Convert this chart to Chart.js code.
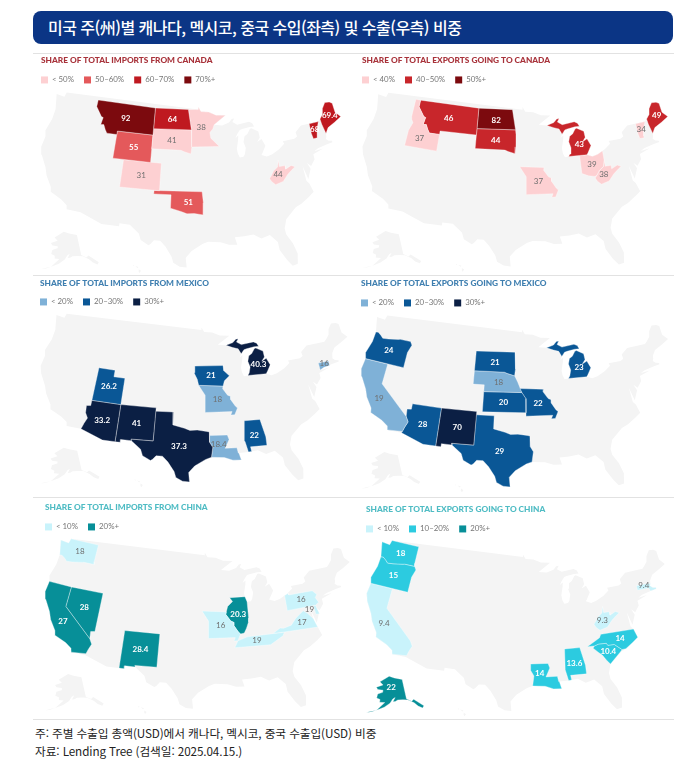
<!DOCTYPE html>
<html lang="ko">
<head>
<meta charset="utf-8">
<title>미국 주별 수출입 비중</title>
<script src="https://cdn.jsdelivr.net/npm/chart.js@4/dist/chart.umd.min.js"></script>
<style>
  html, body { margin: 0; padding: 0; background: #fff; }
  body { width: 692px; height: 784px; position: relative; overflow: hidden; font-family: "Noto Sans CJK KR", sans-serif; }
  #head { position: absolute; left: 33px; top: 11px; width: 640px; height: 33px; background: #0b3585; border-radius: 8px; color: #fff; font-size: 16px; font-weight: 500; letter-spacing: -0.52px; line-height: 33px; text-indent: 15px; white-space: nowrap; }
  .rule { position: absolute; left: 33px; width: 641px; height: 1px; background: #e2e2e2; }
  canvas { position: absolute; }
  .note { position: absolute; left: 35px; font-size: 11.7px; letter-spacing: -0.1px; color: #222; white-space: nowrap; font-weight: 400; }
</style>
</head>
<body>
<div id="head">미국 주(州)별 캐나다, 멕시코, 중국 수입(좌측) 및 수출(우측) 비중</div>
<div class="rule" style="top:53px"></div>
<div class="rule" style="top:275px"></div>
<div class="rule" style="top:497px"></div>
<div class="rule" style="top:719px"></div>
<canvas id="c1" width="320" height="221" style="left:33px;top:54px"></canvas>
<canvas id="c2" width="321" height="221" style="left:353px;top:54px"></canvas>
<canvas id="c3" width="320" height="221" style="left:33px;top:276px"></canvas>
<canvas id="c4" width="321" height="221" style="left:353px;top:276px"></canvas>
<canvas id="c5" width="320" height="221" style="left:33px;top:498px"></canvas>
<canvas id="c6" width="321" height="221" style="left:353px;top:498px"></canvas>
<div class="note" style="top:724px">주: 주별 수출입 총액(USD)에서 캐나다, 멕시코, 중국 수출입(USD) 비중</div>
<div class="note" style="top:742px">자료: Lending Tree (검색일: 2025.04.15.)</div>
<script>
// values
const importsCanadaStates = ['MT','ND','MN','SD','WY','CO','OK','WV','ME','VT'];
const importsCanadaValues = [92,64,38,41,55,31,51,44,69.4,68];
const exportsCanadaStates = ['ID','MT','ND','SD','MI','MO','OH','WV','VT','ME'];
const exportsCanadaValues = [37,46,82,44,43,37,39,38,34,49];
const importsMexicoStates = ['UT','AZ','NM','TX','IA','MO','LA','AL','MI','CT'];
const importsMexicoValues = [26.2,33.2,41,37.3,21,18,18.4,22,40.3,16];
const exportsMexicoStates = ['OR','CA','AZ','NM','TX','SD','NE','KS','MO','MI'];
const exportsMexicoValues = [24,19,28,70,29,21,18,20,22,23];
const importsChinaStates = ['WA','CA','NV','NM','MO','IL','TN','PA','DE','VA'];
const importsChinaValues = [18,27,28,28.4,16,20.3,19,16,19,17];
const exportsChinaStates = ['WA','OR','CA','AK','MA','WV','NC','SC','AL','LA'];
const exportsChinaValues = [18,15,9.4,22,9.4,9.3,14,10.4,13.6,14];

const canadaImportBands = ['< 50%','50–60%','60–70%','70%+'];
const canadaExportBands = ['< 40%','40–50%','50%+'];
const mexicoBands = ['< 20%','20–30%','30%+'];
const chinaImportBands = ['< 10%','20%+'];
const chinaExportBands = ['< 10%','10–20%','20%+'];

// outlines in lon/lat
const usOutline = [[-124.7,48.4],[-123,48.3],[-122.8,49],[-95.15,49],[-95.15,49.4],[-94.6,48.7],[-93,48.6],[-91.5,48.1],[-89.6,48],[-92,46.7],[-90.4,46.55],[-89,46.9],[-88.4,47.4],[-87.9,47.45],[-88.3,46.95],[-87.4,46.5],[-85,46.75],[-84.4,46.5],[-84.1,46],[-85,46],[-86.5,45.8],[-87,45.7],[-87.6,45.1],[-88,44.55],[-87.4,44.9],[-87.5,44.3],[-87.9,43],[-87.8,42.3],[-87.5,41.7],[-86.8,41.76],[-86.5,42.1],[-86.2,43],[-86.5,43.9],[-86.2,44.7],[-85.6,45],[-85,45.7],[-84.7,45.78],[-83.4,45.2],[-83.3,44.3],[-83.9,43.7],[-83,44.05],[-82.45,43],[-82.9,42.4],[-83.2,42],[-83.45,41.73],[-82.5,41.4],[-81.5,41.6],[-80,42.2],[-78.9,42.85],[-79.05,43.27],[-76.8,43.3],[-76.2,43.55],[-76.3,44.2],[-75,45],[-71.5,45],[-71.05,45.3],[-70.3,45.9],[-70,46.7],[-69.2,47.45],[-68.3,47.35],[-67.8,47.07],[-67.8,45.7],[-67,44.85],[-68.5,44.3],[-70,43.8],[-70.7,43.05],[-70.8,42.6],[-71,42.3],[-70.6,41.95],[-70,41.8],[-70,41.6],[-71.2,41.5],[-72.9,41.25],[-73.7,40.95],[-72,41.05],[-74,40.55],[-74,39.8],[-74.9,38.95],[-75.5,39.5],[-75.1,38.6],[-75.9,37.2],[-76.4,39.2],[-76.3,37],[-75.9,36.55],[-75.5,35.25],[-76.5,34.65],[-77.9,33.9],[-79,33.5],[-80.9,32],[-81.4,30.7],[-81.3,29.8],[-80.5,28.4],[-80.05,26.8],[-80.3,25.3],[-81.1,25.15],[-81.8,26.1],[-82.7,27.7],[-82.8,28.9],[-83.9,30.05],[-85.3,29.7],[-86.5,30.4],[-88,30.25],[-89.5,30.2],[-89.2,29.1],[-90.5,29.15],[-91.8,29.6],[-93.8,29.7],[-94.7,29.4],[-96.4,28.4],[-97.3,27.4],[-97.15,25.95],[-98.2,26.05],[-99.2,26.6],[-99.5,27.5],[-100.5,28.9],[-101.4,29.77],[-102.4,29.77],[-102.9,29.2],[-103.2,29],[-104.5,29.65],[-104.9,30.6],[-106.5,31.75],[-108.2,31.78],[-108.2,31.33],[-111.07,31.33],[-114.8,32.5],[-117.12,32.53],[-117.3,33.1],[-118.4,33.75],[-120.5,34.5],[-120.65,35.15],[-121.9,36.6],[-122.5,37.7],[-123.8,39.3],[-124.35,40.4],[-124.2,42],[-124.55,42.85],[-124,44.7],[-123.95,46.2]];
const hawaiiRings = [[[-155.9,20.2],[-155,19.7],[-155.6,19],[-156,19.6]],[[-157.3,21.2],[-156,20.9],[-156.4,20.6]],[[-158.3,21.6],[-157.7,21.4],[-158,21.2]]];

const stateRings = {
  WA: [[[-124.7,48.4],[-123,48.3],[-122.8,49],[-117.03,49],[-117.04,46.42],[-116.92,45.99],[-118.98,46],[-119.3,45.93],[-121.2,45.65],[-122.3,45.55],[-122.8,45.9],[-123.5,46.25],[-123.95,46.2]]],
  OR: [[[-123.95,46.2],[-123.5,46.25],[-122.8,45.9],[-122.3,45.55],[-121.2,45.65],[-119.3,45.93],[-118.98,46],[-116.92,45.99],[-116.5,45.5],[-117,44.3],[-117.03,42],[-124.2,42],[-124.55,42.85],[-124,44.7]]],
  CA: [[[-124.2,42],[-120,42],[-120,39],[-114.63,35],[-114.13,34.26],[-114.5,33.4],[-114.72,32.72],[-117.12,32.53],[-117.3,33.1],[-118.4,33.75],[-120.5,34.5],[-120.65,35.15],[-121.9,36.6],[-122.5,37.7],[-123.8,39.3],[-124.35,40.4]]],
  NV: [[[-120,42],[-114.04,42],[-114.04,36.2],[-114.75,36.1],[-114.63,35],[-120,39]]],
  ID: [[[-117.03,49],[-116.05,49],[-116.05,48],[-114.7,46.7],[-114.3,46.6],[-114.5,45.55],[-113.9,45.6],[-113.45,44.95],[-113,44.45],[-111.05,44.48],[-111.05,42],[-117.03,42],[-117,44.3],[-116.5,45.5],[-116.92,45.99],[-117.04,46.42]]],
  MT: [[[-116.05,49],[-104.05,49],[-104.05,45],[-111.05,45],[-111.05,44.48],[-113,44.45],[-113.45,44.95],[-113.9,45.6],[-114.5,45.55],[-114.3,46.6],[-114.7,46.7],[-116.05,48]]],
  WY: [[[-111.05,45],[-104.05,45],[-104.05,41],[-111.05,41]]],
  UT: [[[-114.04,42],[-111.05,42],[-111.05,41],[-109.05,41],[-109.05,37],[-114.04,37]]],
  CO: [[[-109.05,41],[-102.05,41],[-102.05,37],[-109.05,37]]],
  AZ: [[[-114.04,37],[-109.05,37],[-109.05,31.33],[-111.07,31.33],[-114.8,32.5],[-114.72,32.72],[-114.5,33.4],[-114.13,34.26],[-114.63,35],[-114.75,36.1],[-114.04,36.2]]],
  NM: [[[-109.05,37],[-103,37],[-103.05,32],[-106.6,32],[-106.5,31.75],[-108.2,31.78],[-108.2,31.33],[-109.05,31.33]]],
  ND: [[[-104.05,49],[-97.2,49],[-96.55,46],[-104.05,45.95]]],
  SD: [[[-104.05,45.95],[-96.55,46],[-96.45,45.3],[-96.45,43.5],[-96.6,42.5],[-97.9,42.8],[-98.5,43],[-104.05,43]]],
  NE: [[[-104.05,43],[-98.5,43],[-97.9,42.8],[-96.6,42.5],[-96,41.5],[-95.3,40],[-102.05,40],[-102.05,41],[-104.05,41]]],
  KS: [[[-102.05,40],[-95.3,40],[-94.6,39.1],[-94.62,37],[-102.05,37]]],
  OK: [[[-103,37],[-94.62,37],[-94.43,35.4],[-94.48,33.64],[-96,33.85],[-97.2,33.8],[-98.1,34.1],[-100,34.56],[-100,36.5],[-103,36.5]]],
  TX: [[[-106.6,32],[-103.05,32],[-103.04,36.5],[-100,36.5],[-100,34.56],[-98.1,34.1],[-97.2,33.8],[-96,33.85],[-94.48,33.64],[-94.04,33.55],[-94.04,32],[-93.55,31.2],[-93.8,29.7],[-94.7,29.4],[-96.4,28.4],[-97.3,27.4],[-97.15,25.95],[-98.2,26.05],[-99.2,26.6],[-99.5,27.5],[-100.5,28.9],[-101.4,29.77],[-102.4,29.77],[-102.9,29.2],[-103.2,29],[-104.5,29.65],[-104.9,30.6],[-106.5,31.75]]],
  MN: [[[-97.2,49],[-95.15,49],[-95.15,49.4],[-94.6,48.7],[-93,48.6],[-91.5,48.1],[-89.6,48],[-92,46.7],[-92.3,46.1],[-92.9,45.6],[-92.75,44.75],[-91.2,43.5],[-96.45,43.5],[-96.45,45.3],[-96.55,46]]],
  IA: [[[-96.45,43.5],[-91.2,43.5],[-91.1,42.7],[-90.15,41.9],[-91.1,41.2],[-91.4,40.4],[-95.75,40.6],[-96,41.5],[-96.6,42.5]]],
  MO: [[[-95.75,40.6],[-91.4,40.4],[-91.5,40],[-90.7,39],[-90.2,38.8],[-90.2,38.3],[-89.5,37.3],[-89.15,37],[-89.7,36],[-90.37,36],[-90.1,36.5],[-94.62,36.5],[-94.62,39.1],[-95.3,40]]],
  LA: [[[-94.04,33],[-91.15,33],[-90.9,32.3],[-91.6,31],[-89.75,31],[-89.6,30.2],[-89.5,30.2],[-89.2,29.1],[-90.5,29.15],[-91.8,29.6],[-93.8,29.7],[-93.55,31.2],[-94.04,32]]],
  AL: [[[-88.2,35],[-85.6,35],[-85,32.3],[-85,31],[-87.6,31],[-87.5,30.3],[-88,30.25],[-88.4,31.9]]],
  IL: [[[-90.65,42.5],[-87.8,42.5],[-87.5,41.7],[-87.5,39.3],[-87.6,38.7],[-88.05,37.8],[-88.5,37.1],[-89.15,37],[-89.5,37.3],[-90.2,38.3],[-90.2,38.8],[-90.7,39],[-91.5,40],[-91.4,40.4],[-91.1,41.2],[-90.15,41.9]]],
  MI: [[[-90.4,46.55],[-89,46.9],[-88.4,47.4],[-87.9,47.45],[-88.3,46.95],[-87.4,46.5],[-85,46.75],[-84.4,46.5],[-84.1,46],[-85,46],[-86.5,45.8],[-87,45.7],[-87.6,45.1],[-88.1,45.9],[-89.1,46.15]],
       [[-86.8,41.76],[-86.5,42.1],[-86.2,43],[-86.5,43.9],[-86.2,44.7],[-85.6,45],[-85,45.7],[-84.7,45.78],[-83.4,45.2],[-83.3,44.3],[-83.9,43.7],[-83,44.05],[-82.45,43],[-82.9,42.4],[-83.2,42],[-83.45,41.73]]],
  OH: [[[-84.8,41.7],[-83.45,41.73],[-82.5,41.4],[-81.5,41.6],[-80.52,42],[-80.52,40.64],[-80.85,39.7],[-81.7,39.2],[-82.2,38.6],[-82.6,38.45],[-83.7,38.65],[-84.8,39.1]]],
  WV: [[[-82.6,38.2],[-82.2,38.6],[-81.7,39.2],[-80.85,39.7],[-80.52,40.64],[-80.52,39.72],[-79.48,39.72],[-79.48,39.2],[-78.4,39.6],[-77.75,39.32],[-78.35,39],[-79.3,38.4],[-80.3,37.5],[-81.7,37.2],[-82.3,37.7]]],
  TN: [[[-89.7,36],[-88.05,36.5],[-83.67,36.6],[-81.68,36.59],[-82,36.1],[-84.3,35],[-90.3,35]]],
  VA: [[[-83.67,36.6],[-82.3,37.3],[-81.7,37.2],[-80.3,37.5],[-79.3,38.4],[-78.35,39],[-77.75,39.32],[-77.1,38.85],[-76.3,37.9],[-76,36.9],[-75.9,36.55]]],
  NC: [[[-84.3,35],[-82,36.1],[-81.68,36.59],[-75.9,36.55],[-75.5,35.25],[-76.5,34.65],[-77.9,33.9],[-78.55,33.86],[-79.7,34.8],[-80.8,34.82],[-81,35.15],[-82.3,35.2],[-83.1,35]]],
  SC: [[[-83.35,34.7],[-83.1,35],[-82.3,35.2],[-81,35.15],[-80.8,34.82],[-79.7,34.8],[-78.55,33.86],[-79,33.5],[-80.9,32],[-81.4,32.6],[-82,33.5],[-82.6,34]]],
  PA: [[[-80.52,42],[-79.76,42.27],[-79.76,42],[-75.35,42],[-74.7,41.35],[-75.1,40.9],[-74.7,40.15],[-75.4,39.8],[-80.52,39.72]]],
  DE: [[[-75.8,39.72],[-75.4,39.8],[-75.05,38.45],[-75.7,38.46]]],
  VT: [[[-73.35,45],[-71.5,45],[-72.05,44.1],[-72.45,43],[-72.46,42.73],[-73.27,42.75],[-73.4,43.6]]],
  ME: [[[-71.05,45.3],[-70.3,45.9],[-70,46.7],[-69.2,47.45],[-68.3,47.35],[-67.8,47.07],[-67.8,45.7],[-67,44.85],[-68.5,44.3],[-70,43.8],[-70.7,43.05],[-71,44.5]]],
  CT: [[[-73.7,42.05],[-71.8,42.02],[-71.85,41.32],[-72.9,41.25],[-73.7,40.98]]],
  MA: [[[-73.5,42.75],[-71.3,42.7],[-70.8,42.6],[-71,42.3],[-70.6,41.95],[-70,41.8],[-70,41.6],[-71.2,41.5],[-71.38,42.02],[-73.5,42.05]]],
  AK: [[[-141,69.6],[-141,60.3],[-137.5,58.9],[-135.5,59.7],[-130,55.9],[-131.5,55],[-134,56.2],[-136,58],[-140,59.7],[-144,60],[-148,60],[-150,59.3],[-151.8,59.2],[-150,61.2],[-152,60.5],[-154,58.5],[-158,56.5],[-163,54.8],[-158,58.7],[-162,58.7],[-162,60],[-165,60.6],[-165,62.5],[-161,63.5],[-161,64.5],[-166,64.6],[-168,65.6],[-162,67],[-166,68.3],[-156.5,71.3],[-150,70.5]],
       [[-163,54.8],[-166,53.8],[-170,52.8],[-166,54.1]]]
};

// where each number sits, lon/lat
const labelSpots = {
  MT:[-109.8,47], ND:[-100.4,47.4], MN:[-94.6,46.3], SD:[-100.3,44.4], WY:[-107.5,43], CO:[-105.5,39], OK:[-97,35.5],
  WV:[-81,38.6], ME:[-69,45.4], VT:[-72.6,44], ID:[-114.6,43.4], MI:[-84.6,43.3], MO:[-92.5,38.4], OH:[-82.8,40.3],
  UT:[-111.6,39.4], AZ:[-111.7,34.3], NM:[-106,34.4], TX:[-98.9,31.3], IA:[-93.5,42], LA:[-92.6,31.6], AL:[-86.8,32.7],
  CT:[-72.7,41.75], MA:[-72.1,42.6], OR:[-120.5,44], CA:[-119.8,36.8], NE:[-99.5,41.5], KS:[-98.5,38.5], WA:[-120.3,47.4], NV:[-116.8,39.5],
  IL:[-89.3,40], TN:[-86.5,35.8], PA:[-77.7,41], DE:[-76.6,39.4], VA:[-78.4,37.6], NC:[-78.5,35.6], SC:[-80.9,33.9], AK:[-153.5,66]
};

function albers(lon, lat) {
  const rad = Math.PI / 180, n = 0.6028, c = 1.3512, rho0 = 1.3033;
  const rho = Math.sqrt(c - 2 * n * Math.sin(lat * rad)) / n;
  const th = n * (lon + 96) * rad;
  return { x: rho * Math.sin(th), y: rho0 - rho * Math.cos(th) };
}
// alaska and hawaii are the usual shrunken insets
function project(code, lon, lat) {
  if (code == 'AK') {
    const rho = (90 - lat) * 0.0065, th = (lon + 152) * 0.75 * Math.PI / 180;
    return { x: -0.305 + 1.2 * rho * Math.sin(th), y: -0.157 + 0.85 * (0.1755 - rho * Math.cos(th)) };
  }
  if (code == 'HI') return { x: -0.14 + (lon + 157) * 0.006, y: -0.204 + (lat - 20.5) * 0.008 };
  return albers(lon, lat);
}
function ringPoints(code, ring) {
  const pts = ring.map(p => project(code, p[0], p[1]));
  pts.push(pts[0]);
  return pts;
}
function polygon(code, ring, color, isBase) {
  return {
    data: ringPoints(code, ring),
    fill: 'shape',
    backgroundColor: color,
    borderColor: isBase ? color : 'rgba(255,255,255,0.7)',
    borderWidth: isBase ? 0 : 0.5,
    pointRadius: 0,
    tension: 0,
    order: isBase ? 2 : 1,
    clip: false
  };
}

const GREY = '#f4f4f4';

function drawPanel(cfg) {
  const datasets = [polygon('US', usOutline, GREY, true), polygon('AK', stateRings.AK[0], GREY, true), polygon('AK', stateRings.AK[1], GREY, true)];
  hawaiiRings.forEach(r => datasets.push(polygon('HI', r, GREY, true)));
  const bandOf = v => { let i = 0; cfg.cuts.forEach(c => { if (v >= c) i++; }); return i; };
  cfg.states.forEach((code, i) => {
    stateRings[code].forEach(r => datasets.push(polygon(code, r, cfg.colors[bandOf(cfg.values[i])], false)));
  });
  const cv = document.getElementById(cfg.id);
  const cx = parseInt(cv.style.left), cy = parseInt(cv.style.top);
  const legendPad = 10;

  const numbers = {
    id: 'numbers',
    beforeLayout(chart) {
      // legend floats over the map area, it should not push the scales down
      const lg = chart.legend;
      if (!lg.patched) {
        const fit = lg.fit;
        lg.fit = function () { fit.call(this); this.height = 0; };
        lg.patched = true;
      }
    },
    afterLayout(chart) {
      const lg = chart.legend;
      lg.left = cfg.inset - legendPad;
      lg.top = cfg.legendY - cy - legendPad - 4;
      lg.bottom = lg.top + 40; // the legend clips itself to this box
    },
    afterDatasetsDraw(chart) {
      const ctx = chart.ctx, sx = chart.scales.x, sy = chart.scales.y;
      ctx.save();
      ctx.textAlign = 'center';
      ctx.textBaseline = 'middle';
      cfg.states.forEach((code, i) => {
        const s = labelSpots[code], p = project(code, s[0], s[1]), band = bandOf(cfg.values[i]);
        ctx.font = (band == 0 ? '400' : '700') + ' 8px Lato';
        ctx.fillStyle = band == 0 ? '#6f6f6f' : '#fff';
        ctx.fillText(String(cfg.values[i]), sx.getPixelForValue(p.x), sy.getPixelForValue(p.y));
      });
      ctx.restore();
    }
  };

  const chart = new Chart(cv, {
    type: 'line',
    data: { datasets: datasets },
    options: {
      responsive: false,
      animation: false,
      parsing: false,
      events: [],
      layout: { padding: { left: cfg.inset } },
      scales: {
        x: { type: 'linear', display: false },
        y: { type: 'linear', display: false }
      },
      plugins: {
        tooltip: { enabled: false },
        title: {
          display: true,
          text: cfg.title,
          align: 'start',
          color: cfg.titleColor,
          font: { family: 'Lato', weight: '900', size: 8.3 },
          padding: { top: cfg.titleY - cy - 5, bottom: 0 }
        },
        legend: {
          position: 'top',
          align: 'start',
          labels: {
            boxWidth: 7,
            boxHeight: 7,
            padding: legendPad,
            color: '#777',
            font: { family: 'Lato', size: 7.9 },
            generateLabels: () => cfg.bands.map((t, i) => ({ text: t, fillStyle: cfg.colors[i], strokeStyle: 'transparent', lineWidth: 0, fontColor: '#777', hidden: false }))
          }
        }
      }
    },
    plugins: [numbers]
  });
  // line the scales up with where this panel's map sits on the page
  const a = chart.chartArea;
  chart.options.scales.x.min = (a.left + cx - cfg.x0) / cfg.kx;
  chart.options.scales.x.max = (a.right + cx - cfg.x0) / cfg.kx;
  chart.options.scales.y.max = (cfg.y0 - (a.top + cy)) / cfg.ky;
  chart.options.scales.y.min = (cfg.y0 - (a.bottom + cy)) / cfg.ky;
  chart.update('none');
}

const REDS = ['#fdd0d2', '#e4595b', '#bf1920', '#7c0a0e'];
const REDS3 = ['#fdd0d2', '#c8262b', '#7c0a0e'];
const BLUES = ['#7fb1d7', '#0a5796', '#0b1f44'];
const TEALS2 = ['#c9f3fb', '#078f98'];
const TEALS3 = ['#c9f3fb', '#2ccbe0', '#078f98'];

drawPanel({ id: 'c1', title: 'SHARE OF TOTAL IMPORTS FROM CANADA', titleColor: '#a8323a', titleY: 60, legendY: 80, inset: 8,
  states: importsCanadaStates, values: importsCanadaValues, cuts: [50,60,70], colors: REDS, bands: canadaImportBands, x0: 194.3, kx: 416, y0: 188.5, ky: 392 });
drawPanel({ id: 'c2', title: 'SHARE OF TOTAL EXPORTS GOING TO CANADA', titleColor: '#a8323a', titleY: 60, legendY: 80, inset: 9,
  states: exportsCanadaStates, values: exportsCanadaValues, cuts: [40,50], colors: REDS3, bands: canadaExportBands, x0: 518.5, kx: 424, y0: 188, ky: 389 });
drawPanel({ id: 'c3', title: 'SHARE OF TOTAL IMPORTS FROM MEXICO', titleColor: '#3f7fb0', titleY: 283, legendY: 302, inset: 7,
  states: importsMexicoStates, values: importsMexicoValues, cuts: [20,30], colors: BLUES, bands: mexicoBands, x0: 197.4, kx: 426, y0: 406, ky: 377 });
drawPanel({ id: 'c4', title: 'SHARE OF TOTAL EXPORTS GOING TO MEXICO', titleColor: '#3f7fb0', titleY: 283, legendY: 303, inset: 8,
  states: exportsMexicoStates, values: exportsMexicoValues, cuts: [20,30], colors: BLUES, bands: mexicoBands, x0: 518, kx: 426, y0: 409.6, ky: 384 });
drawPanel({ id: 'c5', title: 'SHARE OF TOTAL IMPORTS FROM CHINA', titleColor: '#4fbcc4', titleY: 507, legendY: 527, inset: 12,
  states: importsChinaStates, values: importsChinaValues, cuts: [20], colors: TEALS2, bands: chinaImportBands, x0: 200.8, kx: 423, y0: 632, ky: 381 });
drawPanel({ id: 'c6', title: 'SHARE OF TOTAL EXPORTS GOING TO CHINA', titleColor: '#4fbcc4', titleY: 509, legendY: 529, inset: 13,
  states: exportsChinaStates, values: exportsChinaValues, cuts: [10,20], colors: TEALS3, bands: chinaExportBands, x0: 519, kx: 414, y0: 634, ky: 382 });
</script>
</body>
</html>
